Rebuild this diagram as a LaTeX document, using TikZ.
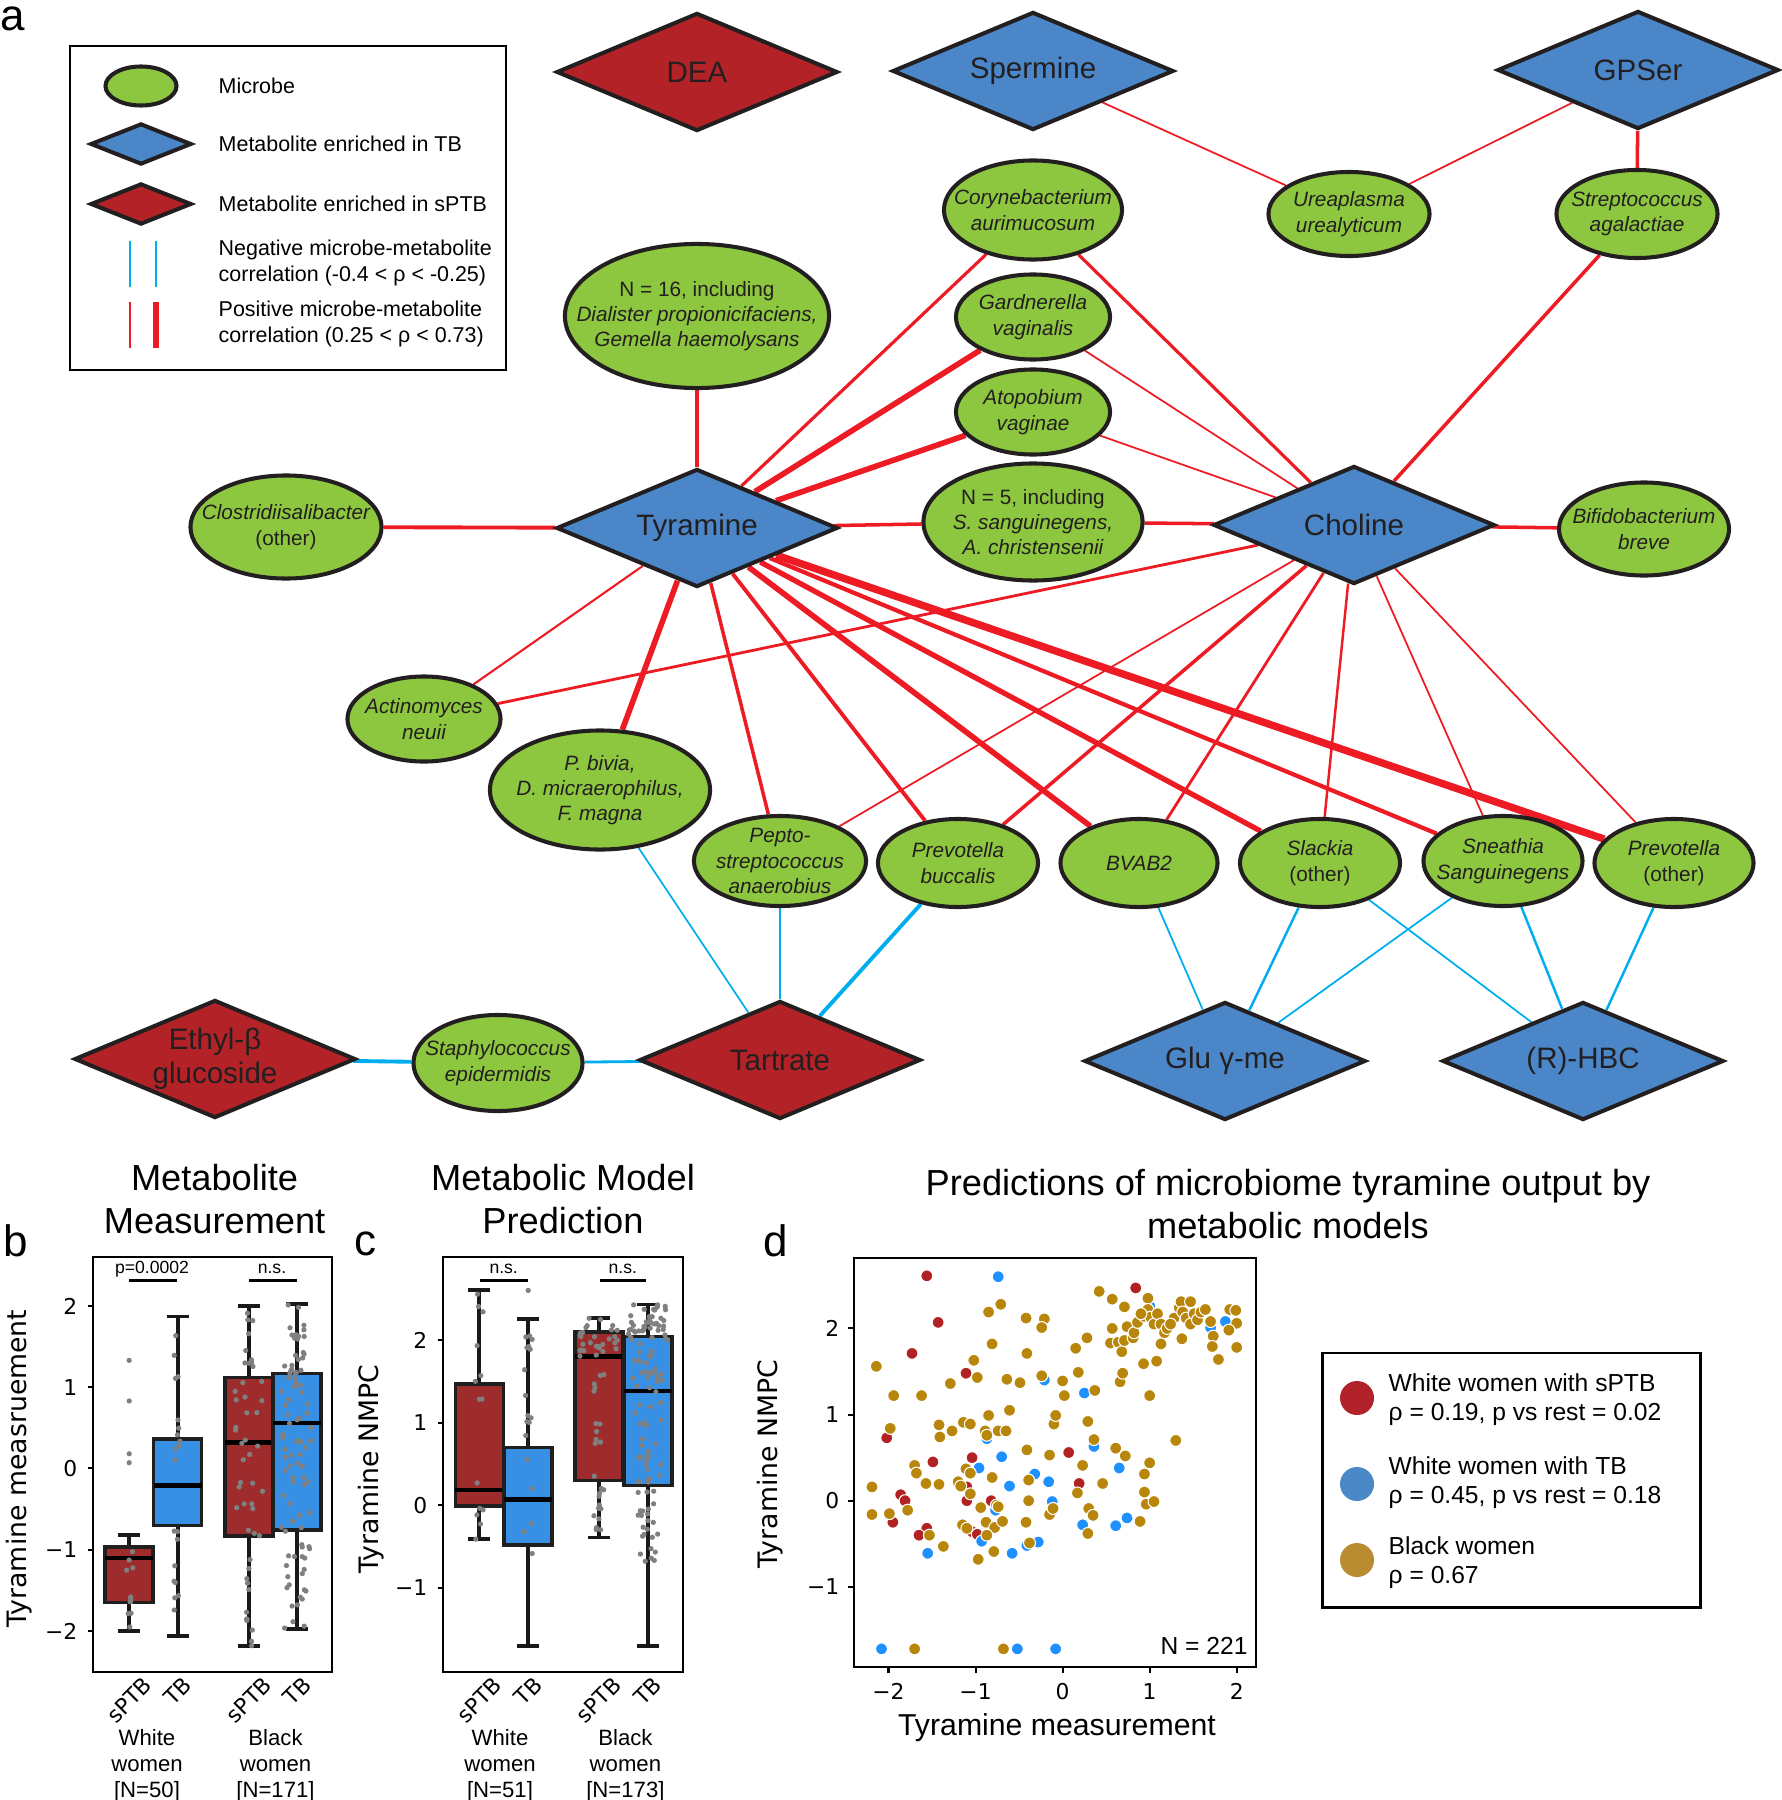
\documentclass[tikz,border=0pt]{standalone}
\usepackage{fontspec}
\setmainfont{Liberation Sans}
\newfontfamily\djv{DejaVu Sans}
\usetikzlibrary{shapes.geometric,backgrounds}

\definecolor{micgreen}{RGB}{141,198,63}
\definecolor{tbblue}{RGB}{74,134,200}
\definecolor{spred}{RGB}{178,34,38}
\definecolor{edgek}{RGB}{35,31,32}
\definecolor{posred}{RGB}{237,28,36}
\definecolor{negblue}{RGB}{0,174,239}
\definecolor{boxred}{RGB}{158,44,44}
\definecolor{boxblue}{RGB}{56,144,228}
\definecolor{dotred}{RGB}{178,34,34}
\definecolor{dotblue}{RGB}{30,144,255}
\definecolor{dotgold}{RGB}{184,134,11}
\definecolor{legred}{RGB}{178,34,42}
\definecolor{legblue}{RGB}{74,136,200}
\definecolor{leggold}{RGB}{186,140,50}

\newcommand\fdia{\fontsize{8.4}{9.6}\selectfont}
\newcommand\fmic{\fontsize{5.9}{7.2}\selectfont\itshape}
\newcommand\fleg{\fontsize{6.1}{7.2}\selectfont}
\newcommand\ftit{\fontsize{10.3}{12}\selectfont}
\newcommand\fpan{\fontsize{12.5}{14}\selectfont}
\newcommand\ftick{\djv\fontsize{6.2}{7.4}\selectfont}
\newcommand\faxl{\djv\fontsize{7.6}{9}\selectfont}
\newcommand\fgrp{\fontsize{6.3}{7.4}\selectfont}
\newcommand\fsig{\fontsize{5}{6}\selectfont}
\newcommand\fdl{\fontsize{7}{8.2}\selectfont}

% ящик с усами: x, q1, q3, медиана, низ, верх, цвет
\newcommand\bplot[7]{%
  \draw[whisk] (#1,#5) -- (#1,#6);
  \draw[whisk] (#1-11,#5) -- (#1+11,#5) (#1-11,#6) -- (#1+11,#6);
  \draw[boxln, fill=#7] (#1-24,#2) rectangle (#1+24,#3);
  \draw[medln] (#1-24,#4) -- (#1+24,#4);
}
% рой точек: x, низ, верх, число, разброс
\newcommand\swarm[5]{%
  \foreach \i in {1,...,#4}{%
    \pgfmathsetmacro\sy{(#2)+rnd*((#3)-(#2))}%
    \pgfmathsetmacro\sx{(#1)+(rnd-0.5)*(#5)}%
    \fill[swdot] (\sx,\sy) circle[radius=0.75pt];
  }%
}

\begin{document}
\begin{tikzpicture}[x=0.01cm, y=-0.01cm,
    mic/.style={ellipse, draw=edgek, line width=1.15pt, fill=micgreen, inner sep=-1cm, align=center, text=edgek, font=\fmic},
    met/.style={diamond, draw=edgek, line width=1.15pt, inner sep=-1cm, aspect=2.38, minimum width=2.81cm, minimum height=1.18cm, align=center, text=edgek, font=\fdia},
    tb/.style={met, fill=tbblue},
    sp/.style={met, fill=spred},
    pc/.style={draw=posred},
    nc/.style={draw=negblue},
    axln/.style={line width=0.6pt, black},
    whisk/.style={line width=1.1pt, black!90},
    boxln/.style={line width=1pt, draw=black!88},
    medln/.style={line width=1.2pt, black},
    swdot/.style={fill=gray},
    sdot/.style={line width=0.3pt, draw=white},
    txt/.style={inner sep=0pt}]
\useasboundingbox (0,0) rectangle (1782,1800);
\pgfmathsetseed{11}

% панель a: легенда
\node[txt, font=\fpan] (la) at (13,19) {a};
\draw[line width=0.8pt] (70,46) rectangle (506,370);
\node[mic, minimum width=0.71cm, minimum height=0.39cm] (lmic) at (141,86) {};
\node[tb, minimum width=1.01cm, minimum height=0.41cm] (ltb) at (141,144) {};
\node[sp, minimum width=1.01cm, minimum height=0.41cm] (lsp) at (141,204) {};
\draw[nc, line width=0.5pt] (130,241) -- (130,287);
\draw[nc, line width=0.8pt] (156,241) -- (156,287);
\draw[pc, line width=0.5pt] (130,302) -- (130,348);
\draw[pc, line width=1.7pt] (156,302) -- (156,348);
\node[txt, anchor=west, font=\fleg] (tmic) at (218,86) {Microbe};
\node[txt, anchor=west, font=\fleg] (ttb) at (218,144) {Metabolite enriched in TB};
\node[txt, anchor=west, font=\fleg] (tsp) at (218,204) {Metabolite enriched in sPTB};
\node[txt, anchor=west, font=\fleg, align=left] (tneg) at (218,263) {Negative microbe-metabolite\\correlation (-0.4 < ρ < -0.25)};
\node[txt, anchor=west, font=\fleg, align=left] (tpos) at (218,324) {Positive microbe-metabolite\\correlation (0.25 < ρ < 0.73)};

% метаболиты
\node[sp] (dea) at (697,72) {DEA};
\node[tb] (spm) at (1033,71) {Spermine};
\node[tb] (gps) at (1638,70) {GPSer};
\node[tb] (tyr) at (697,528) {Tyramine};
\node[tb] (cho) at (1354,525) {Choline};
\node[sp] (eth) at (215,1059) {Ethyl-β\\glucoside};
\node[sp] (tar) at (780,1060) {Tartrate};
\node[tb] (glu) at (1225,1061) {Glu γ-me};
\node[tb] (hbc) at (1583,1061) {(R)-HBC};

% микробы
\node[mic, minimum width=2.64cm, minimum height=1.44cm] (nsix) at (697,316) {{\upshape N = 16, including}\\Dialister propionicifaciens,\\Gemella haemolysans};
\node[mic, minimum width=1.78cm, minimum height=0.99cm] (cory) at (1033,210) {Corynebacterium\\aurimucosum};
\node[mic, minimum width=1.61cm, minimum height=0.84cm] (urea) at (1349,214) {Ureaplasma\\urealyticum};
\node[mic, minimum width=1.61cm, minimum height=0.88cm] (strep) at (1637,214) {Streptococcus\\agalactiae};
\node[mic, minimum width=1.54cm, minimum height=0.85cm] (gard) at (1033,317) {Gardnerella\\vaginalis};
\node[mic, minimum width=1.54cm, minimum height=0.85cm] (atop) at (1033,412) {Atopobium\\vaginae};
\node[mic, minimum width=2.19cm, minimum height=1.17cm] (nfive) at (1033,522) {{\upshape N = 5, including}\\S. sanguinegens,\\A. christensenii};
\node[mic, minimum width=1.91cm, minimum height=1.03cm] (clos) at (286,527) {Clostridiisalibacter\\{\upshape (other)}};
\node[mic, minimum width=1.70cm, minimum height=0.93cm] (bifi) at (1644,529) {Bifidobacterium\\breve};
\node[mic, minimum width=1.53cm, minimum height=0.85cm] (acti) at (424,719) {Actinomyces\\neuii};
\node[mic, minimum width=2.20cm, minimum height=1.19cm] (pbiv) at (600,790) {P. bivia,\\D. micraerophilus,\\F. magna};
\node[mic, minimum width=1.72cm, minimum height=0.90cm] (pept) at (780,861) {Pepto-\\streptococcus\\anaerobius};
\node[mic, minimum width=1.60cm, minimum height=0.88cm] (pbuc) at (958,863) {Prevotella\\buccalis};
\node[mic, minimum width=1.57cm, minimum height=0.88cm] (bvab) at (1139,863) {BVAB2};
\node[mic, minimum width=1.60cm, minimum height=0.88cm] (slac) at (1320,863) {Slackia\\{\upshape (other)}};
\node[mic, minimum width=1.59cm, minimum height=0.90cm] (snea) at (1503,861) {Sneathia\\Sanguinegens};
\node[mic, minimum width=1.59cm, minimum height=0.88cm] (pvot) at (1674,863) {Prevotella\\{\upshape (other)}};
\node[mic, minimum width=1.69cm, minimum height=0.96cm] (stap) at (498,1063) {Staphylococcus\\epidermidis};

\begin{pgfonlayer}{background}
% положительные корреляции — красные
\foreach \a/\b/\w in {spm/urea/0.5, gps/urea/0.5, gps/strep/1.0, nsix/tyr/1.1,
    cory/tyr/0.9, cory/cho/0.9, gard/tyr/1.6, gard/cho/0.5, atop/tyr/1.6, atop/cho/0.5,
    strep/cho/1.0, tyr/nfive/1.0, nfive/cho/1.0, cho/bifi/1.0, clos/tyr/1.1, tyr/acti/0.6,
    acti/cho/0.8, tyr/pbiv/1.6, tyr/pept/1.0, tyr/pbuc/1.1, tyr/bvab/1.6, tyr/slac/1.5,
    tyr/snea/1.2, tyr/pvot/2.1, cho/pept/0.5, cho/pbuc/1.0, cho/bvab/0.8, cho/slac/0.7,
    cho/snea/0.5, cho/pvot/0.5}{
  \draw[pc, line width=\w pt] (\a)--(\b);
}
% отрицательные корреляции — голубые
\foreach \a/\b/\w in {pbiv/tar/0.5, pept/tar/0.5, pbuc/tar/1.1, eth/stap/1.1, stap/tar/0.8,
    bvab/glu/0.5, slac/glu/0.7, snea/glu/0.5, slac/hbc/0.5, snea/hbc/0.7, pvot/hbc/0.7}{
  \draw[nc, line width=\w pt] (\a)--(\b);
}
\end{pgfonlayer}

% панель b
\node[txt, font=\fpan] (lb) at (16,1241) {b};
\node[txt, font=\ftit, align=center] (titb) at (214.6,1199) {Metabolite\\Measurement};
\node[txt, font=\faxl, rotate=90] (ylb) at (19,1468.5) {Tyramine measruement};
\begin{scope}[shift={(0,1468.4)}, y=0.812cm]
  \foreach \v/\t [count=\k] in {-2/−2,-1/−1,0/0,1/1,2/2}{
    \draw[axln] (93.2,\v) -- (88,\v);
    \node[txt, font=\ftick, anchor=east] (yb\k) at (78,\v) {\t};
  }
  \bplot{129.2}{-0.97}{-1.65}{-1.1}{-2.0}{-0.82}{boxred}
  \bplot{177.7}{0.36}{-0.7}{-0.21}{-2.06}{1.87}{boxblue}
  \bplot{249}{1.12}{-0.83}{0.32}{-2.19}{2.0}{boxred}
  \bplot{297.2}{1.17}{-0.76}{0.56}{-1.98}{2.02}{boxblue}
  \foreach \v in {1.33,0.83,0.18,0.07}{\fill[swdot] (129.2,\v) circle[radius=0.75pt];}
  \swarm{129.2}{-2.0}{-0.82}{11}{8}
  \swarm{177.7}{-2.06}{1.87}{20}{8}
  \swarm{249}{-2.19}{-0.83}{12}{8}
  \swarm{249}{-0.83}{1.12}{26}{28}
  \swarm{249}{1.12}{2.0}{10}{12}
  \swarm{297.2}{-1.98}{-0.76}{24}{26}
  \swarm{297.2}{-0.76}{1.17}{44}{32}
  \swarm{297.2}{1.17}{2.02}{24}{26}
\end{scope}
\draw[axln] (93.2,1257) rectangle (332.3,1671.6);
\draw[line width=1pt] (129,1280.6) -- (177,1280.6);
\draw[line width=1pt] (249,1280.6) -- (297,1280.6);
\node[txt, font=\fsig] (pb1) at (152,1269) {p=0.0002};
\node[txt, font=\fsig] (pb2) at (272,1269) {n.s.};
\node[txt, font=\ftick, rotate=45] (xb1) at (129.2,1700) {sPTB};
\node[txt, font=\ftick, rotate=45] (xb2) at (177.7,1691) {TB};
\node[txt, font=\ftick, rotate=45] (xb3) at (249,1700) {sPTB};
\node[txt, font=\ftick, rotate=45] (xb4) at (297.2,1691) {TB};
\node[txt, font=\fgrp, align=center] (gb1) at (147,1766) {White\\women\\{}[N=50]};
\node[txt, font=\fgrp, align=center] (gb2) at (275.5,1766) {Black\\women\\{}[N=171]};

% панель c
\node[txt, font=\fpan] (lc) at (365,1244) {c};
\node[txt, font=\ftit, align=center] (titc) at (563,1199) {Metabolic Model\\Prediction};
\node[txt, font=\faxl, rotate=90] (ylc) at (371.5,1469) {Tyramine NMPC};
\begin{scope}[shift={(0,1505.3)}, y=0.826cm]
  \foreach \v/\t [count=\k] in {-1/−1,0/0,1/1,2/2}{
    \draw[axln] (443,\v) -- (438,\v);
    \node[txt, font=\ftick, anchor=east] (yc\k) at (428,\v) {\t};
  }
  \bplot{479.3}{1.47}{-0.01}{0.19}{-0.41}{2.6}{boxred}
  \bplot{528.2}{0.7}{-0.48}{0.07}{-1.7}{2.25}{boxblue}
  \bplot{598.8}{2.1}{0.3}{1.8}{-0.39}{2.27}{boxred}
  \bplot{647.8}{2.04}{0.24}{1.38}{-1.7}{2.43}{boxblue}
  \fill[swdot] (528.2,2.6) circle[radius=0.75pt];
  \swarm{479.3}{-0.41}{2.6}{14}{8}
  \swarm{528.2}{-0.6}{2.25}{18}{8}
  \swarm{598.8}{-0.39}{0.3}{12}{10}
  \swarm{598.8}{0.3}{1.8}{12}{10}
  \swarm{598.8}{1.8}{2.27}{30}{38}
  \swarm{647.8}{-0.7}{0.24}{24}{20}
  \swarm{647.8}{0.24}{2.0}{48}{30}
  \swarm{647.8}{2.0}{2.43}{44}{40}
\end{scope}
\draw[axln] (443,1257) rectangle (683,1671.6);
\draw[line width=1pt] (480,1280.6) -- (527.5,1280.6);
\draw[line width=1pt] (599.5,1280.6) -- (646,1280.6);
\node[txt, font=\fsig] (pc1) at (503.7,1269) {n.s.};
\node[txt, font=\fsig] (pc2) at (622.8,1269) {n.s.};
\node[txt, font=\ftick, rotate=45] (xc1) at (479.3,1700) {sPTB};
\node[txt, font=\ftick, rotate=45] (xc2) at (528.2,1691) {TB};
\node[txt, font=\ftick, rotate=45] (xc3) at (598.8,1700) {sPTB};
\node[txt, font=\ftick, rotate=45] (xc4) at (647.8,1691) {TB};
\node[txt, font=\fgrp, align=center] (gc1) at (500,1766) {White\\women\\{}[N=51]};
\node[txt, font=\fgrp, align=center] (gc2) at (625.4,1766) {Black\\women\\{}[N=173]};

% панель d
\node[txt, font=\fpan] (ld) at (776,1241) {d};
\node[txt, font=\ftit, align=center] (titd) at (1288,1204) {Predictions of microbiome tyramine output by\\metabolic models};
\node[txt, font=\faxl, rotate=90] (yld) at (770,1464) {Tyramine NMPC};
\node[txt, font=\fontsize{8.6}{10}\selectfont] (xld) at (1057,1728) {Tyramine measurement};
\begin{scope}[shift={(1062.6,1500.7)}, x=0.87cm, y=0.861cm]
  \foreach \v/\t [count=\k] in {-2/−2,-1/−1,0/0,1/1,2/2}{
    \draw[axln] (\v,-1.936) -- (\v,-1.994);
    \node[txt, font=\ftick] (xd\k) at (\v,-2.21) {\t};
  }
  \foreach \v/\t [count=\k] in {-1/−1,0/0,1/1,2/2}{
    \draw[axln] (-2.402,\v) -- (-2.46,\v);
    \node[txt, font=\ftick, anchor=east] (yd\k) at (-2.559,\v) {\t};
  }
  % белые женщины с sPTB
  \foreach \px/\py in {-1.56/2.61, -1.43/2.07, -1.73/1.71, -1.11/1.48, -2.02/0.73, -1.49/0.45,
      -1.04/0.50, 0.84/2.47, 0.07/0.56, 0.19/0.20, -1.10/0.16, -1.86/0.07, -1.81/0.0,
      -1.95/-0.25, -1.56/-0.32, -1.65/-0.40, -1.10/0.0, -0.82/0.0, -1.04/-0.36, -0.98/-0.39}{
    \filldraw[sdot, fill=dotred] (\px,\py) circle[radius=1.7pt];
  }
  % белые женщины с TB
  \foreach \px/\py in {-0.74/2.60, -0.21/1.40, 0.25/1.25, 0.36/0.63, 0.65/0.38, -0.70/0.51,
      -0.96/0.38, -0.32/0.31, -0.16/0.22, -0.61/0.17, -0.12/-0.01, -0.77/-0.11, 0.23/-0.28,
      0.61/-0.29, 0.74/-0.20, -0.28/-0.48, -0.41/-0.52, -0.58/-0.61, -0.93/-0.47, -1.55/-0.61,
      -2.08/-1.72, -0.52/-1.72, -0.08/-1.72, 1.87/2.08, 1.00/2.26, -0.87/0.72, 1.70/2.01}{
    \filldraw[sdot, fill=dotblue] (\px,\py) circle[radius=1.7pt];
  }
  % чёрные женщины
  \foreach \px/\py in {-2.14/1.56, -1.94/1.22, -1.62/1.22, -1.98/0.84, -1.42/0.88, -1.41/0.74,
      -1.27/0.81, -1.29/1.36, -1.02/1.63, -0.98/1.43, -1.14/0.91, -1.06/0.89, -0.85/2.19,
      -0.71/2.28, -0.81/1.82, -0.85/0.99, -0.89/0.81, -0.87/0.76, -0.74/0.81, -0.65/0.81,
      -0.61/1.05, -0.64/1.41, -0.49/1.37, -0.42/2.12, -0.21/2.11, -0.24/2.01, -0.41/1.71,
      -0.24/1.45, 0.0/1.39, 0.02/1.22, -0.10/0.89, -0.08/0.99, -0.41/0.59, -0.15/0.53,
      0.15/1.77, 0.28/1.89, 0.18/1.49, 0.37/1.28, 0.29/0.92, 0.36/0.71, 0.23/0.41, 0.46/0.20,
      0.17/0.09, 0.30/-0.09, 0.35/-0.17, 0.29/-0.38, 0.61/0.61, 0.72/0.52, 1.00/0.44,
      0.94/0.31, 0.94/0.10, 0.96/-0.04, 1.05/-0.01, 0.89/-0.24, 1.30/0.70, 1.00/1.22,
      1.08/1.62, 0.93/1.59, 0.66/1.38, 0.69/1.48, -1.70/0.41, -1.68/0.32, -1.57/0.20,
      -1.42/0.19, -2.19/0.16, -2.19/-0.16, -1.99/-0.15, -1.78/-0.11, -1.53/-0.40, -1.37/-0.53,
      -1.70/-1.72, -0.68/-1.72, -1.20/0.22, -1.17/0.17, -1.11/0.37, -1.06/0.32, -1.06/0.08,
      -0.94/-0.08, -0.81/0.27, -0.76/-0.05, -0.74/-0.07, -0.88/-0.25, -0.78/-0.31,
      -0.69/-0.24, -0.87/-0.40, -1.15/-0.28, -1.10/-0.32, -0.79/-0.59, -0.97/-0.68,
      -0.42/-0.25, -0.38/-0.49, -0.39/0.24, -0.39/0.0, -0.15/-0.16, -0.11/-0.09, 0.42/2.43,
      0.57/2.34, 0.71/2.25, 0.98/2.35, 0.57/2.0, 0.55/1.83, 0.64/1.84, 0.68/1.73, 0.71/1.86,
      0.74/2.02, 0.81/1.89, 0.82/1.95, 0.86/2.07, 0.94/2.14, 0.98/2.22, 1.01/2.13, 1.05/2.05,
      1.09/2.17, 1.13/2.05, 1.17/1.95, 1.13/1.82, 1.20/2.0, 1.28/2.12, 1.34/2.24, 1.36/2.31,
      1.38/2.19, 1.42/2.12, 1.47/2.31, 1.47/2.05, 1.51/2.17, 1.55/2.10, 1.59/2.19, 1.64/2.22,
      1.70/2.08, 1.73/1.91, 1.72/1.79, 1.79/1.64, 1.92/2.22, 1.99/2.21, 2.00/2.06, 2.00/1.78,
      1.91/1.98, 1.37/1.88, 1.24/2.05, 0.90/2.17}{
    \filldraw[sdot, fill=dotgold] (\px,\py) circle[radius=1.7pt];
  }
  \node[txt, font=\fdl] (nd) at (1.625,-1.688) {N = 221};
\end{scope}
\draw[axln] (853.6,1257.8) rectangle (1256.4,1667.4);
% легенда d
\draw[line width=0.8pt] (1322.5,1353) rectangle (1700.6,1607.3);
\fill[legred] (1357,1398) circle[radius=0.17cm];
\fill[legblue] (1357,1484) circle[radius=0.17cm];
\fill[leggold] (1357,1560) circle[radius=0.17cm];
\node[txt, font=\fdl, align=left, anchor=west] (dl1) at (1388,1400) {White women with sPTB\\ρ = 0.19, p vs rest = 0.02};
\node[txt, font=\fdl, align=left, anchor=west] (dl2) at (1388,1483) {White women with TB\\ρ = 0.45, p vs rest = 0.18};
\node[txt, font=\fdl, align=left, anchor=west] (dl3) at (1388,1563) {Black women\\ρ = 0.67};
\end{tikzpicture}
\end{document}
